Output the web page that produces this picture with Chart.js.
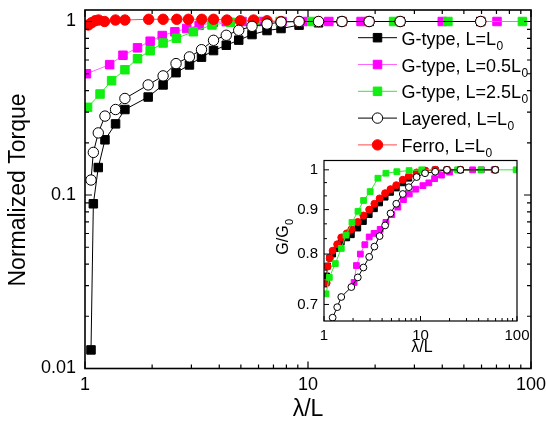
<!DOCTYPE html>
<html>
<head>
<meta charset="utf-8">
<script src="https://cdn.jsdelivr.net/npm/chart.js@4.4.1/dist/chart.umd.min.js"></script>
<style>
html, body { margin: 0; padding: 0; background: #fff; }
#wrap { position: relative; width: 546px; height: 425px; }
canvas { position: absolute; left: 0; top: 0; }
</style>
</head>
<body>
<div id="wrap">
  <canvas id="mainChart" width="546" height="425"></canvas>
  <canvas id="insetChart" width="546" height="425"></canvas>
</div>
<script>
const FONT = '"Liberation Sans", Arial, Helvetica, sans-serif';

// main panel: normalized torque vs lambda/L
const xTicks = [1, 10, 100];
const yTicks = [0.01, 0.1, 1];

const gL0X = [1.064, 1.09, 1.147, 1.229, 1.371, 1.51, 1.92, 2.24, 2.56, 2.94, 3.33, 3.77, 4.30, 4.89, 5.61, 6.55, 7.57, 9.12, 11.15, 14.2, 18.8, 25.9, 59.5];
const gL0Y = [0.0128, 0.089, 0.144, 0.208, 0.257, 0.311, 0.367, 0.431, 0.507, 0.562, 0.623, 0.68, 0.73, 0.781, 0.841, 0.887, 0.911, 0.953, 0.983, 1, 1, 1, 1];

const gHalfX = [1.015, 1.29, 1.48, 1.72, 1.96, 2.22, 2.53, 2.86, 3.25, 3.76, 4.3, 5.06, 6.3, 7.65, 9.5, 12.4, 17.3, 40, 70.4];
const gHalfY = [0.50, 0.564, 0.639, 0.705, 0.77, 0.83, 0.872, 0.911, 0.95, 0.985, 0.998, 1, 1, 1, 1, 1, 1, 1, 1];

const g25X = [1.027, 1.168, 1.316, 1.51, 1.72, 1.96, 2.24, 2.57, 3.06, 3.71, 4.48, 5.8, 7.5, 10.4, 24.2, 42.4, 91.5];
const g25Y = [0.32, 0.382, 0.456, 0.527, 0.61, 0.679, 0.752, 0.80, 0.873, 0.955, 0.99, 1, 1, 1, 1, 1, 1];

const layX = [1.064, 1.09, 1.147, 1.229, 1.371, 1.51, 1.92, 2.24, 2.56, 2.94, 3.33, 3.77, 4.30, 4.89, 5.61, 6.55, 7.57, 9.12, 11.15, 14.2, 18.8, 25.9, 59.5];
const layY = [0.122, 0.176, 0.228, 0.285, 0.311, 0.36, 0.431, 0.486, 0.572, 0.625, 0.688, 0.779, 0.833, 0.89, 0.938, 0.967, 0.993, 1, 1, 1, 1, 1, 1];

const ferX = [1.035, 1.07, 1.11, 1.15, 1.224, 1.37, 1.51, 1.93, 2.24, 2.58, 2.91, 3.34, 3.77, 4.33, 4.97, 5.7, 6.55, 7.57, 9.12, 11.15, 14.2, 18.8, 25.9, 59.5];
const ferY = [0.955, 0.984, 1.01, 1.02, 1.0, 1.02, 1.02, 1.03, 1.03, 1.03, 1.03, 1.03, 1.03, 1.02, 1.01, 1.02, 1.01, 1.0, 1, 1, 1, 1, 1, 1];

// inset: G/G0 vs lambda/L
const insXTicks = [1, 10, 100];
const insYTicks = [0.7, 0.8, 0.9, 1];

const inGX = [1.064, 1.09, 1.147, 1.229, 1.371, 1.51, 1.72, 1.92, 2.24, 2.56, 2.94, 3.33, 3.77, 4.30, 4.89, 5.61, 6.55, 7.57, 9.12, 11.15, 14.2, 18.8, 25.9, 59.5];
const inGY = [0.755, 0.775, 0.792, 0.80, 0.812, 0.826, 0.835, 0.842, 0.857, 0.872, 0.888, 0.902, 0.916, 0.93, 0.942, 0.953, 0.966, 0.978, 0.99, 0.997, 1, 1, 1, 1];
const inFY = [0.741, 0.774, 0.791, 0.807, 0.821, 0.836, 0.845, 0.854, 0.871, 0.886, 0.9, 0.914, 0.927, 0.94, 0.95, 0.96, 0.974, 0.984, 0.993, 0.998, 1, 1, 1, 1];

const inHalfX = [2.05, 2.17, 2.38, 2.65, 2.94, 3.3, 3.82, 4.38, 5.04, 5.82, 6.66, 7.65, 8.94, 10.6, 12.2, 14.0, 16.5, 20, 25.5, 34.7, 42.8, 58];
const inHalfY = [0.742, 0.776, 0.80, 0.82, 0.837, 0.845, 0.854, 0.87, 0.888, 0.906, 0.924, 0.938, 0.95, 0.959, 0.966, 0.977, 0.986, 0.994, 1, 1, 1, 1];

const in25X = [1.05, 1.135, 1.31, 1.51, 1.69, 1.95, 2.25, 2.57, 3.01, 3.62, 4.38, 5.69, 7.62, 10.3, 24.2, 42.4, 98];
const in25Y = [0.72, 0.752, 0.78, 0.812, 0.841, 0.87, 0.896, 0.922, 0.944, 0.978, 0.991, 0.995, 0.998, 1, 1, 1, 1];

const inLayX = [1.229, 1.371, 1.51, 1.92, 2.24, 2.56, 2.94, 3.33, 3.77, 4.30, 4.89, 5.61, 6.55, 7.57, 9.12, 11.15, 14.2, 18.8, 25.9, 59.5];
const inLayY = [0.676, 0.695, 0.714, 0.733, 0.752, 0.772, 0.794, 0.816, 0.839, 0.863, 0.891, 0.914, 0.938, 0.955, 0.981, 0.991, 0.995, 1, 1, 1];

const legendNames = ['G-type, L=L', 'G-type, L=0.5L', 'G-type, L=2.5L', 'Layered, L=L', 'Ferro, L=L'];

const looks = {
    black:  { line: '#000000', fill: '#000000', edge: '#000000', shape: 'rect' },
    pink:   { line: '#ff66ff', fill: '#ff00ff', edge: '#ff00ff', shape: 'rect' },
    green:  { line: '#33e833', fill: '#11ee11', edge: '#11ee11', shape: 'rect' },
    open:   { line: '#000000', fill: '#ffffff', edge: '#000000', shape: 'circle' },
    red:    { line: '#ff4a4a', fill: '#ff0000', edge: '#ff0000', shape: 'circle' }
};

function pts(xs, ys) { return xs.map((x, i) => ({ x: x, y: ys[i] })); }

function series(label, xs, ys, look, r, order) {
    const sq = look.shape === 'rect';
    return {
        label: label, data: pts(xs, ys), showLine: true, tension: 0, borderWidth: 1,
        borderColor: look.line, pointBackgroundColor: look.fill, pointBorderColor: look.edge,
        pointStyle: look.shape, pointRadius: sq ? r * 1.2 : r, pointBorderWidth: 1, order: order
    };
}

function decadeTicks(min, max) {
    const out = [];
    for (let d = Math.pow(10, Math.floor(Math.log10(min) + 1e-9)); d < max * 1.001; d *= 10) {
        for (let k = 1; k < 10; k++) {
            const v = k * d;
            if (v >= min * 0.999 && v <= max * 1.001) out.push({ v: v, major: k === 1 });
        }
    }
    return out;
}

function drawTicks(chart, xt, yt, o) {
    const { ctx, chartArea: a, scales: { x, y } } = chart;
    ctx.save();
    ctx.strokeStyle = '#000';
    ctx.lineWidth = o.tw;
    ctx.beginPath();
    xt.forEach(t => {
        const px = x.getPixelForValue(t.v), len = t.major ? o.maj : o.min;
        ctx.moveTo(px, a.bottom); ctx.lineTo(px, a.bottom - len);
        if (o.mirror) { ctx.moveTo(px, a.top); ctx.lineTo(px, a.top + len); }
    });
    yt.forEach(t => {
        const py = y.getPixelForValue(t.v), len = t.major ? o.maj : o.min;
        ctx.moveTo(a.left, py); ctx.lineTo(a.left + len, py);
        if (o.mirror) { ctx.moveTo(a.right, py); ctx.lineTo(a.right - len, py); }
    });
    ctx.stroke();
    ctx.lineWidth = o.fw;
    ctx.strokeRect(a.left, a.top, a.right - a.left, a.bottom - a.top);
    ctx.restore();
}

function subText(ctx, text, sub, x, y, size, subSize) {
    ctx.font = size + 'px ' + FONT;
    ctx.textAlign = 'left';
    ctx.textBaseline = 'alphabetic';
    ctx.fillText(text, x, y);
    const w = ctx.measureText(text).width;
    ctx.font = subSize + 'px ' + FONT;
    ctx.fillText(sub, x + w + 0.5, y + 5);
    return w + ctx.measureText(sub).width;
}

function marker(ctx, look, cx, cy, r) {
    ctx.fillStyle = look.fill; ctx.strokeStyle = look.edge; ctx.lineWidth = 1;
    ctx.beginPath();
    if (look.shape === 'rect') ctx.rect(cx - r * 0.85, cy - r * 0.85, r * 1.7, r * 1.7);
    else ctx.arc(cx, cy, r, 0, Math.PI * 2);
    ctx.fill(); ctx.stroke();
}

const mainDecor = {
    id: 'mainDecor',
    afterDraw(chart) {
        const ctx = chart.ctx;
        const s = chart.scales;
        drawTicks(chart, decadeTicks(s.x.min, s.x.max), decadeTicks(s.y.min, s.y.max), { tw: 1.2, fw: 1.6, maj: 7, min: 4, mirror: true });

        ctx.save();
        ctx.fillStyle = '#000';
        ctx.font = '23px ' + FONT;
        ctx.textAlign = 'center'; ctx.textBaseline = 'middle';
        ctx.fillText('λ/L', 308, 410);
        ctx.translate(19, 190); ctx.rotate(-Math.PI / 2);
        ctx.fillText('Normalized Torque', 0, 0);
        ctx.restore();

        // legend
        const keys = ['black', 'pink', 'green', 'open', 'red'];
        ctx.save();
        keys.forEach((k, i) => {
            const look = looks[k], cy = 37.7 + i * 26.8;
            ctx.strokeStyle = look.line; ctx.lineWidth = 1;
            ctx.beginPath(); ctx.moveTo(358, cy); ctx.lineTo(397, cy); ctx.stroke();
            marker(ctx, look, 377.5, cy, look.shape === 'rect' ? 5 : 5.2);
            ctx.fillStyle = '#000';
            subText(ctx, legendNames[i], '0', 401.5, cy + 7, 18, 12);
        });
        ctx.restore();
    }
};

const insetDecor = {
    id: 'insetDecor',
    beforeDraw(chart) {
        const { ctx, chartArea: a } = chart;
        ctx.save(); ctx.fillStyle = '#fff';
        ctx.fillRect(a.left, a.top, a.right - a.left, a.bottom - a.top);
        ctx.restore();
    },
    afterDraw(chart) {
        const ctx = chart.ctx;
        const s = chart.scales;
        const yt = [];
        for (let i = 0; i <= 9; i++) yt.push({ v: 0.7 + i * 0.1 / 3, major: i % 3 === 0 });
        drawTicks(chart, decadeTicks(s.x.min, s.x.max), yt, { tw: 1, fw: 1.2, maj: 5, min: 3, mirror: false });

        ctx.save();
        ctx.fillStyle = '#000';
        ctx.font = '16px ' + FONT;
        ctx.textAlign = 'center'; ctx.textBaseline = 'middle';
        ctx.fillText('λ/L', 422, 348);
        ctx.translate(282, 237); ctx.rotate(-Math.PI / 2);
        ctx.font = '16px ' + FONT;
        const w1 = ctx.measureText('G/G').width;
        ctx.font = '11px ' + FONT;
        const w2 = ctx.measureText('0').width;
        subText(ctx, 'G/G', '0', -(w1 + w2) / 2, 5.5, 16, 11);
        ctx.restore();
    }
};

function logAxis(min, max, ticks, size, pad, fit) {
    return {
        type: 'logarithmic', min: min, max: max,
        grid: { display: false, drawTicks: false }, border: { display: false },
        ticks: { autoSkip: false, maxRotation: 0, padding: pad, color: '#000', font: { family: FONT, size: size }, callback: v => String(v) },
        afterBuildTicks: sc => { sc.ticks = ticks.map(v => ({ value: v })); },
        afterFit: fit
    };
}

new Chart(document.getElementById('mainChart'), {
    type: 'scatter',
    data: {
        datasets: [
            series(legendNames[3], layX, layY, looks.open, 5.2, 1),
            series(legendNames[4], ferX, ferY, looks.red, 5.2, 2),
            series(legendNames[2], g25X, g25Y, looks.green, 5, 3),
            series(legendNames[1], gHalfX, gHalfY, looks.pink, 5, 4),
            series(legendNames[0], gL0X, gL0Y, looks.black, 5, 5)
        ]
    },
    options: {
        responsive: false, animation: false, devicePixelRatio: 1,
        layout: { padding: { left: 0, right: 15, top: 10, bottom: 0 } },
        plugins: { legend: { display: false }, tooltip: { enabled: false } },
        scales: {
            x: logAxis(1, 100, xTicks, 18, 6, sc => { sc.height = 56.5; sc.paddingLeft = 0; sc.paddingRight = 0; }),
            y: logAxis(0.01, 1.165, yTicks, 18, 9, sc => { sc.width = 85; sc.paddingTop = 0; sc.paddingBottom = 0; })
        }
    },
    plugins: [mainDecor]
});

new Chart(document.getElementById('insetChart'), {
    type: 'scatter',
    data: {
        datasets: [
            series('Layered', inLayX, inLayY, looks.open, 3.4, 1),
            series('G-type 2.5', in25X, in25Y, looks.green, 3.4, 2),
            series('Ferro', inGX, inFY, looks.red, 3.5, 3),
            series('G-type', inGX, inGY, looks.black, 3.4, 4),
            series('G-type 0.5', inHalfX, inHalfY, looks.pink, 3.4, 5)
        ]
    },
    options: {
        responsive: false, animation: false, devicePixelRatio: 1,
        layout: { padding: { left: 284, right: 29, top: 160.5, bottom: 74 } },
        plugins: { legend: { display: false }, tooltip: { enabled: false } },
        scales: {
            x: logAxis(1, 100, insXTicks, 15, 6, sc => { sc.height = 30; sc.paddingLeft = 0; sc.paddingRight = 0; }),
            y: logAxis(0.673, 1.025, insYTicks, 15, 6, sc => { sc.width = 40; sc.paddingTop = 0; sc.paddingBottom = 0; })
        }
    },
    plugins: [insetDecor]
});
</script>
</body>
</html>
